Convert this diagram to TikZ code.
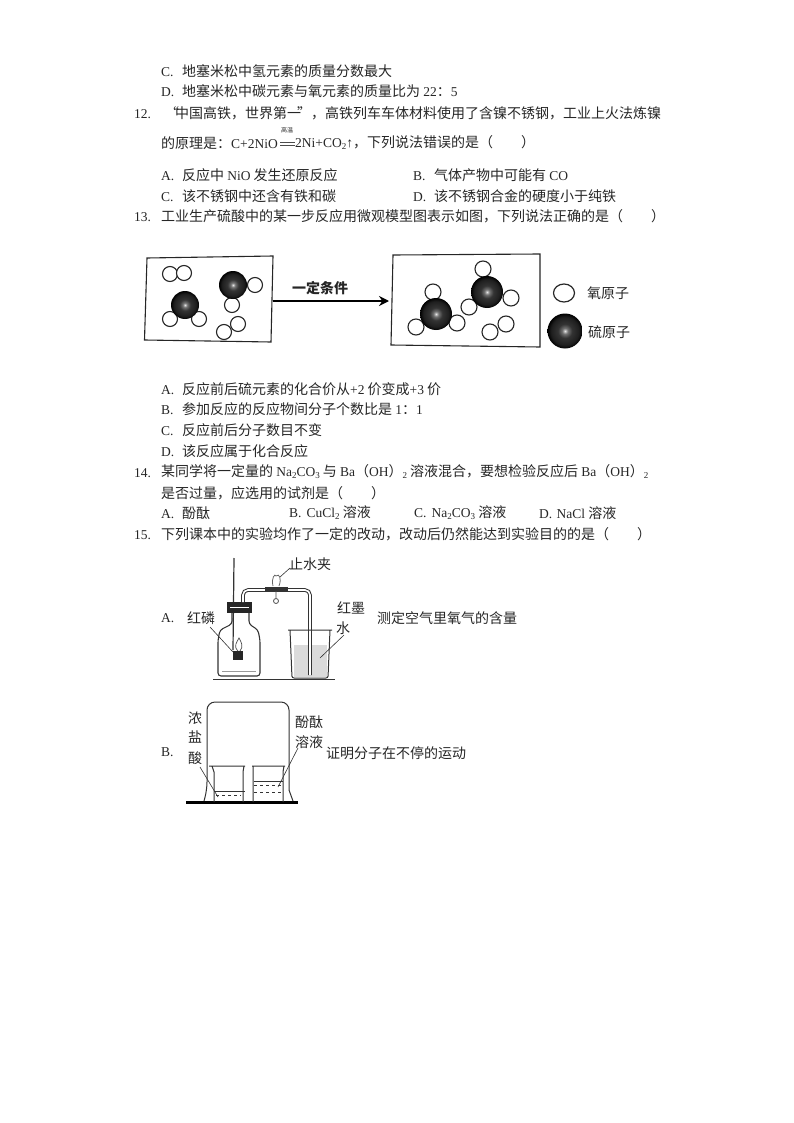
\documentclass[tikz,border=0pt]{standalone}
\usepackage{fontspec}
\usetikzlibrary{arrows.meta,shapes.geometric}
\setmainfont{Liberation Serif}
\newfontfamily\cjk{Noto Sans CJK SC}
\newcommand{\lat}[1]{{\rmfamily\fontsize{13.5}{14}\selectfont #1}}
\newcommand{\dn}[1]{\raisebox{-2pt}{\rmfamily\fontsize{9}{9}\selectfont #1}}
\newcommand{\opt}[1]{\makebox[21pt][l]{\lat{#1}}}
\newcommand{\optn}[1]{\makebox[17.5pt][l]{\lat{#1}}}
\pgfdeclareradialshading{sball}{\pgfpoint{0bp}{0bp}}{color(0bp)=(white!90!black); color(4bp)=(black!55); color(10bp)=(black!80); color(20bp)=(black!88); color(25bp)=(black); color(50bp)=(black)}
\tikzset{
 ln/.style={anchor=west,inner sep=0pt,font=\cjk\fontsize{14}{15}\selectfont,text=black!85},
 ct/.style={anchor=center,inner sep=0pt,font=\cjk\fontsize{14}{15}\selectfont,text=black!85},
 oatom/.style={circle,draw=black!85,line width=1.1pt,fill=white,minimum size=15pt,inner sep=0pt},
 oatomb/.style={oatom,minimum size=16pt},
 satom/.style={circle,shading=sball,minimum size=#1,inner sep=0pt},
 frame/.style={draw=black!85,line width=1.1pt},
 app/.style={draw=black!80,line width=1pt},
 lead/.style={draw=black!80,line width=.6pt},
}
\begin{document}
\begin{tikzpicture}[x=1pt,y=-1pt]
\useasboundingbox (0,0) rectangle (794,1123);
% Question text
\node[ln] (t1) at (161,71) {\opt{C.}地塞米松中氢元素的质量分数最大};
\node[ln] (t2) at (161,91) {\opt{D.}地塞米松中碳元素与氧元素的质量比为 \lat{22}：\lat{5}};
\node[ln] (n12) at (134,114) {\lat{12.}};
\node[ln] (t3) at (165,113) {“\hspace{-4pt}中国高铁，世界第一\hspace{-4pt}”，高铁列车车体材料使用了含镍不锈钢，工业上火法炼镍};
\node[ln] (t4a) at (161,143) {的原理是：\lat{C+2NiO}};
\node[ct,font=\cjk\fontsize{6}{6}\selectfont] (gw) at (287,130) {高温};
\node[ln] (t4b) at (295,143) {\lat{2Ni+CO\dn{2}↑}，下列说法错误的是（\hspace{28pt}）};
\draw[black!70,line width=.7pt] (280,142) -- (295,142) (280,145) -- (295,145);
\node[ln] (o1) at (161,175) {\opt{A.}反应中 \lat{NiO} 发生还原反应};
\node[ln] (o2) at (413,175) {\opt{B.}气体产物中可能有 \lat{CO}};
\node[ln] (o3) at (161,196) {\opt{C.}该不锈钢中还含有铁和碳};
\node[ln] (o4) at (413,196) {\opt{D.}该不锈钢合金的硬度小于纯铁};
\node[ln] (n13) at (134,217) {\lat{13.}};
\node[ln] (t5) at (161,216) {工业生产硫酸中的某一步反应用微观模型图表示如图，下列说法正确的是（\hspace{28pt}）};
% Model picture
\draw[frame] (147,258) -- (273,256) -- (271,342) -- (144.5,340) -- cycle;
\draw[frame] (393,255) -- (540,254) -- (540,347) -- (391,345) -- cycle;
\coordinate (arrS) at (273,301);
\coordinate (arrE) at (389,301);
\draw[black,line width=2.4pt,-{Stealth[length=10pt,width=10pt]}] (arrS) -- (arrE);
\node[ct,font=\cjk\bfseries\fontsize{14}{15}\selectfont] (cond) at (320,288) {一定条件};
\node[oatom] (a1) at (170,274) {};
\node[oatom] (a2) at (184,273) {};
\node[oatom] (a3) at (255,285) {};
\node[oatom] (a4) at (232,305) {};
\node[oatom] (a5) at (170,319) {};
\node[oatom] (a6) at (199,319) {};
\node[oatom] (a7) at (224,332) {};
\node[oatom] (a8) at (238,324) {};
\node[satom=28pt] (a9) at (233,285) {};
\node[satom=28pt] (a10) at (185,305) {};
\node[oatomb] (b1) at (483,269) {};
\node[oatomb] (b2) at (511,298) {};
\node[oatomb] (b3) at (469,307) {};
\node[oatomb] (b4) at (433,292) {};
\node[oatomb] (b5) at (416,327) {};
\node[oatomb] (b6) at (457,323) {};
\node[oatomb] (b7) at (490,332) {};
\node[oatomb] (b8) at (506,324) {};
\node[satom=32pt] (b9) at (487,292) {};
\node[satom=32pt] (b10) at (436,314) {};
\node[draw=black!85,line width=1.2pt,ellipse,minimum width=21pt,minimum height=18pt,inner sep=0pt] (leg1) at (564,293) {};
\node[satom=35pt] (leg2) at (565,331) {};
\node[ct] (leg1t) at (608,293) {氧原子};
\node[ct] (leg2t) at (609,332) {硫原子};
% Options 13
\node[ln] (p1) at (161,389) {\opt{A.}反应前后硫元素的化合价从\lat{+2} 价变成\lat{+3} 价};
\node[ln] (p2) at (161,409) {\opt{B.}参加反应的反应物间分子个数比是 \lat{1}：\lat{1}};
\node[ln] (p3) at (161,430) {\opt{C.}反应前后分子数目不变};
\node[ln] (p4) at (161,451) {\opt{D.}该反应属于化合反应};
\node[ln] (n14) at (134,473) {\lat{14.}};
\node[ln] (q14) at (161,472) {某同学将一定量的 \lat{Na\dn{2}CO\dn{3}} 与 \lat{Ba}（\lat{OH}）\dn{2} 溶液混合，要想检验反应后 \lat{Ba}（\lat{OH}）\dn{2}};
\node[ln] (q14b) at (161,493) {是否过量，应选用的试剂是（\hspace{28pt}）};
\node[ln] (r1) at (161,513) {\opt{A.}酚酞};
\node[ln] (r2) at (289,513) {\optn{B.}\lat{CuCl\dn{2}} 溶液};
\node[ln] (r3) at (414,513) {\optn{C.}\lat{Na\dn{2}CO\dn{3}} 溶液};
\node[ln] (r4) at (539,513) {\optn{D.}\lat{NaCl} 溶液};
\node[ln] (n15) at (134,535) {\lat{15.}};
\node[ln] (q15) at (161,534) {下列课本中的实验均作了一定的改动，改动后仍然能达到实验目的的是（\hspace{28pt}）};
% Apparatus A
\node[ln] (ua) at (161,618) {\lat{A.}};
\node[ct] (l1) at (201,618) {红磷};
\node[ct] (l2) at (310,564) {止水夹};
\node[ct] (l3) at (351,608) {红墨};
\node[ct] (l4) at (343,628) {水};
\node[ln] (l5) at (377,618) {测定空气里氧气的含量};
\draw[app] (213,679) -- (335,679);
\fill[black!14] (294,645) rectangle (327,677);
\draw[app,line width=1.1pt,rounded corners=3pt] (232,613) -- (232,624) -- (220,630) -- (218,640) -- (218,676) -- (260,676) -- (260,640) -- (258,630) -- (249,624) -- (249,613);
\draw[black!40,line width=1pt] (222,671) -- (256,671);
\draw[app,line width=1.2pt] (234,558) -- (233,650);
\fill[black!85] (227,602) rectangle (252,613);
\draw[white,line width=.8pt] (230,607) -- (249,607);
\draw[black!80,line width=1pt,double=white,double distance=1.6pt,rounded corners=5pt] (243,602) -- (243,590) -- (310,590) -- (310,675);
\fill[black!85] (233,651) rectangle (243,660);
\draw[black!70,line width=.7pt] (238,651) .. controls (233,646) and (237,642) .. (239,638) .. controls (241,642) and (244,646) .. (240,651);
\draw[app,rounded corners=2pt] (288,630) -- (332,630) (290,630) -- (292,678) -- (328,678) -- (330,630);
\draw[black!70,line width=.8pt] (276,601) circle (2.5pt) (276,591) -- (276,598);
\draw[black!60,line width=.8pt] (273,586) .. controls (271,578) and (275,573) .. (276,576) .. controls (279,573) and (282,578) .. (279,586);
\fill[black!80] (265,587) rectangle (288,591);
\draw[lead] (210,627) -- (233,652);
\draw[lead] (344,635) -- (320,658);
\draw[lead] (290,568) -- (280,577);
% Apparatus B
\node[ln] (ub) at (161,752) {\lat{B.}};
\node[ct] (m1) at (195,718) {浓};
\node[ct] (m2) at (195,737) {盐};
\node[ct] (m3) at (195,758) {酸};
\node[ct] (m4) at (309,722) {酚酞};
\node[ct] (m5) at (309,742) {溶液};
\node[ln] (m6) at (326,753) {证明分子在不停的运动};
\draw[black,line width=3pt] (186,802) -- (298,802);
\draw[app,rounded corners=8pt] (204,801) -- (207,790) -- (207,702) -- (289,702) -- (289,790);
\draw[app] (289,790) -- (293,801);
\draw[app] (209,766) -- (245,766) (212,766) -- (214,772) -- (214,802) (244,766) -- (243,772) -- (243,802);
\draw[app] (252,766) -- (285,766) (253,766) -- (253,802) (284,766) -- (283,772) -- (283,802);
\draw[black!80,line width=.7pt] (214,791) -- (245,791);
\draw[black!80,line width=.7pt,dashed] (216,795) -- (241,795);
\draw[black!80,line width=.7pt] (254,781) -- (283,781);
\draw[black!80,line width=.7pt,dashed] (254,785) -- (282,785) (254,792) -- (282,792);
\draw[lead] (200,767) -- (218,797);
\draw[lead] (298,748) -- (278,787);
\end{tikzpicture}
\end{document}
